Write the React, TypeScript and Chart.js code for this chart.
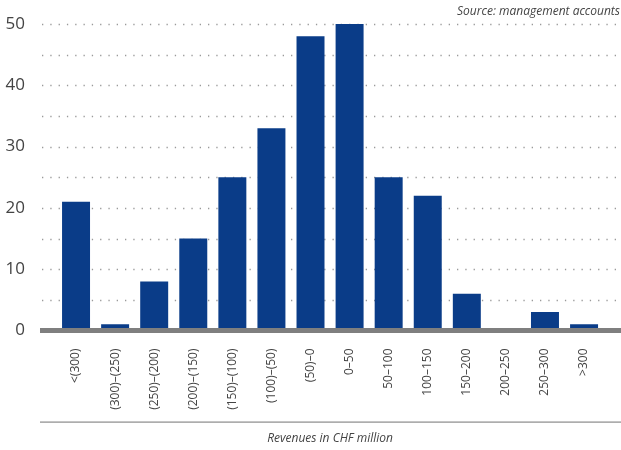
import React, { useEffect, useRef } from "react";
import { Chart, registerables } from "chart.js";

Chart.register(...registerables);

const categories = [
  "<(300)",
  "(300)–(250)",
  "(250)–(200)",
  "(200)–(150)",
  "(150)–(100)",
  "(100)–(50)",
  "(50)–0",
  "0–50",
  "50–100",
  "100–150",
  "150–200",
  "200–250",
  "250–300",
  ">300",
];
const counts = [21, 1, 8, 15, 25, 33, 48, 50, 25, 22, 6, 0, 3, 1];
const gridValues = [5, 10, 15, 20, 25, 30, 35, 40, 45, 50];
const sourceText = "Source: management accounts";
const axisTitle = "Revenues in CHF million";

const FONT = "'Open Sans', 'Noto Sans', sans-serif";

const decorPlugin = {
  id: "decor",
  beforeDatasetsDraw(chart: any) {
    const ctx = chart.ctx;
    const y = chart.scales.y;
    ctx.save();
    ctx.strokeStyle = "#9a9a9a";
    ctx.lineWidth = 1.3;
    ctx.setLineDash([1.3, 7]);
    gridValues.forEach((v) => {
      const py = Math.round(y.getPixelForValue(v)) + 0.5;
      ctx.beginPath();
      ctx.moveTo(42, py);
      ctx.lineTo(620, py);
      ctx.stroke();
    });
    ctx.restore();
  },
  afterDatasetsDraw(chart: any) {
    const ctx = chart.ctx;
    const y = chart.scales.y;
    const y0 = y.getPixelForValue(0);
    ctx.save();
    ctx.fillStyle = "#7f7f7f";
    ctx.fillRect(40, y0 - 2.5, 581, 5);
    ctx.fillStyle = "#8a8a8a";
    ctx.fillRect(40, 421.5, 581, 1.2);
    ctx.restore();
  },
  afterDraw(chart: any) {
    const ctx = chart.ctx;
    ctx.save();
    ctx.fillStyle = "#444";
    ctx.font = `italic 12px ${FONT}`;
    ctx.textAlign = "right";
    ctx.textBaseline = "middle";
    ctx.fillText(sourceText, 620, 12);
    ctx.restore();
  },
};

export default function App() {
  const ref = useRef<HTMLCanvasElement>(null);
  useEffect(() => {
    document.body.style.margin = "0";
    if (!ref.current) return;
    const chart = new Chart(ref.current, {
      type: "bar",
      data: {
        labels: categories,
        datasets: [
          {
            data: counts,
            backgroundColor: "#0a3c88",
            borderWidth: 0,
            barPercentage: 0.716,
            categoryPercentage: 1,
          },
        ],
      },
      options: {
        responsive: false,
        animation: false,
        layout: { padding: { top: 24, right: 17.4, left: 0, bottom: 0 } },
        plugins: {
          legend: { display: false },
          tooltip: { enabled: false },
          title: { display: false },
        },
        scales: {
          x: {
            grid: { display: false, drawTicks: false },
            border: { display: false },
            ticks: {
              autoSkip: false,
              maxRotation: 90,
              minRotation: 90,
              padding: 18,
              color: "#444",
              font: { family: FONT, size: 12 },
            },
            title: {
              display: true,
              text: axisTitle,
              color: "#444",
              font: { family: FONT, size: 12, style: "italic" },
              padding: { top: 0, bottom: 4 },
            },
            afterFit(scale: any) {
              scale.height = 119.5;
            },
          },
          y: {
            min: 0,
            max: 50,
            grid: { display: false, drawTicks: false },
            border: { display: false },
            ticks: {
              stepSize: 5,
              padding: 31.5,
              color: "#444",
              font: { family: FONT, size: 17 },
              callback: (v: any) => (Number(v) % 10 === 0 ? String(v) : ""),
            },
            afterFit(scale: any) {
              scale.width = 56.5;
              scale.paddingTop = 0;
              scale.paddingBottom = 0;
            },
          },
        },
      },
      plugins: [decorPlugin],
    });
    return () => chart.destroy();
  }, []);
  return (
    <div style={{ width: 621, height: 450 }}>
      <canvas ref={ref} width={621} height={450} />
    </div>
  );
}
